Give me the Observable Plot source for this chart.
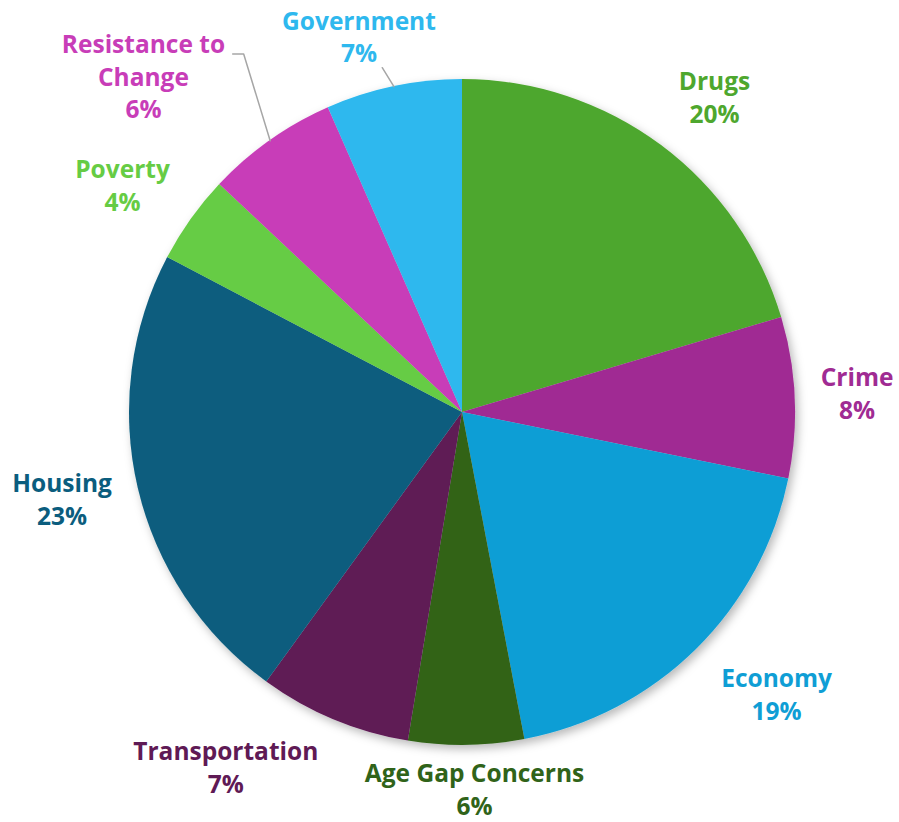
<!DOCTYPE html>
<html><head><meta charset="utf-8">
<script src="https://cdn.jsdelivr.net/npm/d3@7"></script>
<script src="https://cdn.jsdelivr.net/npm/@observablehq/plot@0.6"></script>
<style>body{margin:0;background:#fff}</style>
</head><body><div id="chart"></div>
<script>
// ---- data ----
const categories = ["Drugs", "Crime", "Economy", "Age Gap Concerns", "Transportation", "Housing", "Poverty", "Resistance to Change", "Government"];
const values = [20.4, 7.8, 18.8, 5.6, 7.4, 22.7, 4.3, 6.4, 6.6];
const colors = ["#4EA72E", "#A02B93", "#0F9ED5", "#306319", "#5F1A55", "#0B5D7E", "#66CC44", "#C83DB8", "#2EB8EE"];
const labelLines = {"Resistance to Change": "Resistance to\nChange"};

// ---- layout (pixels / degrees) ----
const W = 899, H = 822;
const center = {x: 462, y: 412}, radius = 333;
// per-label: angle shift from slice mid-angle (deg), distance of label block centre from pie centre (px)
const labelShift = [2.1, 0, -3.3, -1.1, 10.9, 0.7, -1.9, -8.4, -3.6];
const labelDist = [402, 395, 423, 379, 428, 410, 408, 462, 388];
// leader lines: [elbow/end polar points] as (deg, px)
const leaders = {
  "Resistance to Change": [[328.6, 420], [325.3, 420.5]],
  "Government": [[346.9, 354]]
};

const rows = categories.map((c, i) => ({category: c, value: values[i], color: colors[i]}));
const arcs = d3.pie().sort(null).value(d => d.value)(rows);
const polar = (deg, dist) => ({x: center.x + dist * Math.sin(deg * Math.PI / 180), y: center.y - dist * Math.cos(deg * Math.PI / 180)});

const labels = arcs.map((a, i) => {
  const mid = (a.startAngle + a.endAngle) / 2 * 180 / Math.PI;
  const p = polar(mid + labelShift[i], labelDist[i]);
  return {x: p.x, y: p.y, color: a.data.color, text: `${labelLines[a.data.category] || a.data.category}\n${Math.round(a.data.value)}%`, mid};
});

const leaderPts = [];
arcs.forEach((a, i) => {
  const L = leaders[a.data.category];
  if (!L) return;
  const mid = (a.startAngle + a.endAngle) / 2 * 180 / Math.PI;
  const pts = [polar(mid, radius), ...L.map(([d, r]) => polar(d, r))];
  pts.forEach(p => leaderPts.push({...p, key: a.data.category}));
});
// Resistance: horizontal end segment
(function(){
  const pts = leaderPts.filter(p => p.key === "Resistance to Change");
  if (pts.length === 3) { pts[2].y = pts[1].y; pts[2].x = pts[1].x - 11; }
})();

function pieMark(index, scales) {
  const cx = scales.x(center.x), cy = scales.y(center.y);
  const r = scales.x(center.x + radius) - cx;
  const g = d3.create("svg:g");
  const defs = g.append("defs");
  const f = defs.append("filter").attr("id", "pieShadow").attr("x", "-20%").attr("y", "-20%").attr("width", "140%").attr("height", "140%");
  f.append("feDropShadow").attr("dx", 3).attr("dy", 4).attr("stdDeviation", 5).attr("flood-color", "#000").attr("flood-opacity", 0.28);
  const arc = d3.arc().innerRadius(0).outerRadius(r);
  g.append("g").attr("transform", `translate(${cx},${cy})`).attr("filter", "url(#pieShadow)")
    .selectAll("path").data(arcs).join("path")
    .attr("d", arc).attr("fill", d => d.data.color);
  return g.node();
}

const chart = Plot.plot({
  width: W, height: H,
  margin: 0,
  x: {domain: [0, W], range: [0, W], axis: null},
  y: {domain: [0, H], range: [0, H], axis: null},
  style: {fontFamily: "'Open Sans', sans-serif", background: "#fff"},
  marks: [
    pieMark,
    Plot.line(leaderPts, {x: "x", y: "y", z: "key", stroke: "#A6A6A6", strokeWidth: 1.5}),
    Plot.text(labels, {x: "x", y: "y", dy: -3, text: "text", fill: "color", fontSize: 24.5, fontWeight: 700, lineHeight: 1.33})
  ]
});
document.getElementById("chart").append(chart);
</script>
</body></html>
